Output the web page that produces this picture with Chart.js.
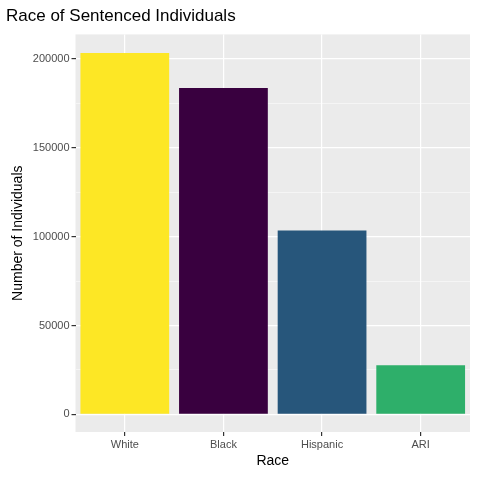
<!DOCTYPE html>
<html>
<head>
<meta charset="utf-8">
<script src="https://cdn.jsdelivr.net/npm/chart.js@4"></script>
<style>
  body { margin: 0; background: #fff; }
  #wrap { width: 480px; height: 480px; }
</style>
</head>
<body>
<div id="wrap"><canvas id="chart" width="480" height="480"></canvas></div>
<script>
"use strict"

// data
const races = ["White", "Black", "Hispanic", "ARI"];
const individuals = [203300, 183600, 103400, 27600];
const barColors = ["#FDE725", "#39003F", "#27567B", "#2EAF6A"];

const chartEl = document.getElementById("chart");

// grey panel like ggplot
const panelBg = {
    id: "panelBg",
    beforeDraw(chart) {
        const a = chart.chartArea;
        const ctx = chart.ctx;
        ctx.save();
        ctx.fillStyle = "#EBEBEB";
        ctx.fillRect(a.left, a.top, a.right - a.left, a.bottom - a.top);
        ctx.restore();
    }
};

new Chart(chartEl, {
    type: "bar",
    data: {
        labels: races,
        datasets: [{
            data: individuals,
            backgroundColor: barColors,
            barPercentage: 0.9,
            categoryPercentage: 1
        }]
    },
    plugins: [panelBg],
    options: {
        responsive: false,
        animation: false,
        layout: { padding: { left: 6, right: 10, top: 0, bottom: 6 } },
        plugins: {
            legend: { display: false },
            tooltip: { enabled: false },
            title: {
                display: true,
                text: "Race of Sentenced Individuals",
                align: "start",
                color: "#000",
                font: { family: "Liberation Sans", size: 17, weight: "normal" },
                padding: { top: 6, bottom: 8 }
            }
        },
        scales: {
            x: {
                offset: true,
                grid: {
                    offset: false,
                    color: "#fff",
                    lineWidth: 1.2,
                    tickColor: "#333",
                    tickLength: 4
                },
                border: { display: false },
                ticks: { color: "#4D4D4D", font: { family: "Liberation Sans", size: 11 }, padding: 2 },
                title: {
                    display: true, text: "Race", color: "#000",
                    font: { family: "Liberation Sans", size: 14 }, padding: { top: 0 }
                }
            },
            y: {
                min: -9900,
                max: 213700,
                afterBuildTicks(scale) {
                    const t = [];
                    for (let v = 0; v <= 200000; v += 25000) t.push({ value: v });
                    scale.ticks = t;
                },
                grid: {
                    color: "#fff",
                    lineWidth: ctx => (ctx.tick && ctx.tick.value % 50000 === 0) ? 1.2 : 0.5,
                    tickColor: ctx => (ctx.tick && ctx.tick.value % 50000 === 0) ? "#333" : "rgba(0,0,0,0)",
                    tickLength: 4
                },
                border: { display: false },
                ticks: {
                    color: "#4D4D4D",
                    font: { family: "Liberation Sans", size: 11 },
                    padding: 2,
                    autoSkip: false,
                    callback: v => (v % 50000 === 0) ? String(v) : ""
                },
                title: {
                    display: true, text: "Number of Individuals", color: "#000",
                    font: { family: "Liberation Sans", size: 14 }, padding: { bottom: 4 }
                }
            }
        }
    }
});
</script>
</body>
</html>
